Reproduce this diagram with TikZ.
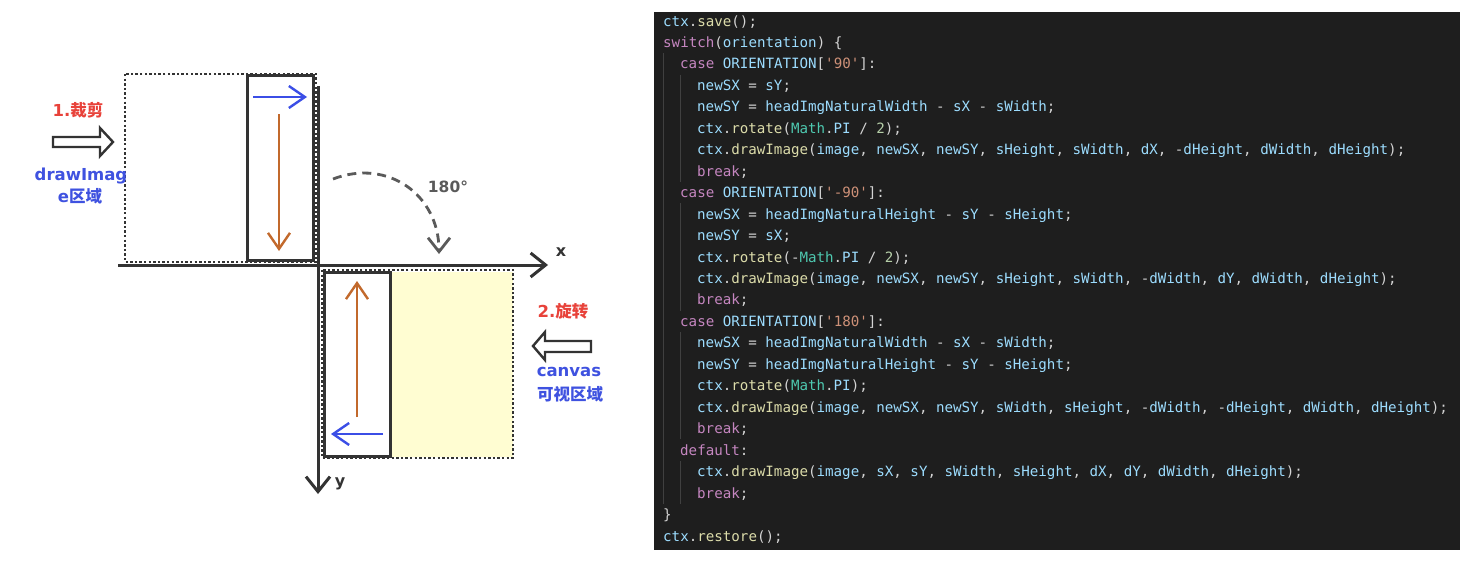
\documentclass[tikz,border=0pt]{standalone}
\usepackage{fontspec}
\setmonofont{DejaVu Sans Mono}
\newfontfamily\dv{DejaVu Sans}
\newfontfamily\cjk{Noto Sans CJK SC}
\usetikzlibrary{arrows.meta}
\definecolor{cbg}{HTML}{1E1E1E}
\definecolor{cpun}{HTML}{D4D4D4}
\definecolor{cvar}{HTML}{9CDCFE}
\definecolor{cfn}{HTML}{DCDCAA}
\definecolor{ckw}{HTML}{C586C0}
\definecolor{cstr}{HTML}{CE9178}
\definecolor{cnum}{HTML}{B5CEA8}
\definecolor{ccls}{HTML}{4EC9B0}
\definecolor{cguide}{HTML}{404040}
\definecolor{cdark}{HTML}{333333}
\definecolor{cblue}{HTML}{3B4EE6}
\definecolor{corange}{HTML}{C2692C}
\definecolor{cred}{HTML}{E8423A}
\definecolor{clblue}{HTML}{3F52E0}
\definecolor{cyellow}{HTML}{FFFDD2}
\definecolor{cgray}{HTML}{5A5A5A}
\newcommand\cV[1]{\textcolor{cvar}{#1}}
\newcommand\cF[1]{\textcolor{cfn}{#1}}
\newcommand\cK[1]{\textcolor{ckw}{#1}}
\newcommand\cS[1]{\textcolor{cstr}{#1}}
\newcommand\cN[1]{\textcolor{cnum}{#1}}
\newcommand\cM[1]{\textcolor{ccls}{#1}}
\tikzset{
  code/.style={anchor=base west, inner sep=0pt, text=cpun,
    font=\ttfamily\fontsize{14.17}{17}\selectfont},
  dotbox/.style={draw=cdark, line width=2.6pt, dash pattern=on 2.4pt off 2.2pt},
  solidbox/.style={draw=cdark, line width=3pt},
  axis/.style={draw=cdark, line width=3pt, -{Straight Barb[length=15pt,width=24pt]}},
  barrow/.style={draw=cblue, line width=2.4pt, -{Straight Barb[length=16pt,width=22pt]}},
  oarrow/.style={draw=corange, line width=2.4pt, -{Straight Barb[length=16pt,width=22pt]}},
  darc/.style={draw=cgray, line width=2.8pt, dash pattern=on 9pt off 6pt, -{Straight Barb[length=14pt,width=22pt]}},
  hollow/.style={draw=cdark, line width=2.4pt, fill=white, line join=miter},
  lbl/.style={inner sep=0pt, font=\fontsize{16.5}{19}\selectfont},
  axlbl/.style={inner sep=0pt, text=cdark, font=\dv\bfseries\fontsize{16}{19}\selectfont},
  guide/.style={draw=cguide, line width=1pt}
}
\begin{document}
\begin{tikzpicture}[x=1pt,y=-1pt]
\useasboundingbox (0,0) rectangle (1476,562);
\fill[white] (0,0) rectangle (1476,562);

% ---------- left diagram ----------
\fill[cyellow] (390,272) rectangle (513,457);
\draw[dotbox] (125,74) rectangle (316,262);
\draw[dotbox] (322,270) rectangle (513,458);
\draw[solidbox] (247,75) rectangle (313,260);
\draw[solidbox] (324,272) rectangle (390,456);

\coordinate (xs) at (118,265);
\coordinate (xe) at (548,265);
\coordinate (ys) at (318,86);
\coordinate (ye) at (318,494);
\draw[axis] (xs) -- (xe);
\draw[axis] (ys) -- (ye);
\node[axlbl] (xl) at (561,252) {x};
\node[axlbl] (yl) at (340,484) {y};

\draw[barrow] (253,97) -- (307,97);
\draw[oarrow] (279,114) -- (279,251);
\draw[oarrow] (357,417) -- (357,281);
\draw[barrow] (383,434) -- (331,434);

\draw[darc] (333,179) .. controls (388,158) and (439,195) .. (439,254);
\node[inner sep=0pt, text=cgray, font=\dv\bfseries\fontsize{15.5}{18}\selectfont] (deg) at (448,187) {180°};

\node[lbl, text=cred] (t1) at (78,110) {{\dv\bfseries 1.}{\cjk\bfseries 裁剪}};
\draw[hollow] (53,137) -- (100,137) -- (100,128) -- (113,142) -- (100,156) -- (100,147) -- (53,147) -- cycle;
\node[lbl, text=clblue] (t2) at (81,176) {\dv\bfseries drawImag};
\node[lbl, text=clblue] (t3) at (80,196) {{\dv\bfseries e}{\cjk\bfseries 区域}};

\node[lbl, text=cred] (t4) at (563,311) {{\dv\bfseries 2.}{\cjk\bfseries 旋转}};
\draw[hollow] (591,341) -- (545,341) -- (545,332) -- (533,346) -- (545,360) -- (545,352) -- (591,352) -- cycle;
\node[lbl, text=clblue] (t5) at (569,372) {\dv\bfseries canvas};
\node[lbl, text=clblue] (t6) at (570,394) {\cjk\bfseries 可视区域};

% ---------- code panel ----------
\fill[cbg] (654,12) rectangle (1460,550);
\draw[guide] (663.5,53) -- (663.5,504);
\draw[guide] (680.5,74.7) -- (680.5,181.9);
\draw[guide] (680.5,203.4) -- (680.5,310.7);
\draw[guide] (680.5,332.2) -- (680.5,439.4);
\draw[guide] (680.5,461) -- (680.5,503.8);

\node[code] (c1) at (663,26.00) {\cV{ctx}.\cF{save}();};
\node[code] (c2) at (663,47.46) {\cK{switch}(\cV{orientation}) \{};
\node[code] (c3) at (680,68.92) {\cK{case} \cV{ORIENTATION}[\cS{'90'}]:};
\node[code] (c4) at (697,90.38) {\cV{newSX} = \cV{sY};};
\node[code] (c5) at (697,111.84) {\cV{newSY} = \cV{headImgNaturalWidth} - \cV{sX} - \cV{sWidth};};
\node[code] (c6) at (697,133.30) {\cV{ctx}.\cF{rotate}(\cM{Math}.\cV{PI} / \cN{2});};
\node[code] (c7) at (697,154.76) {\cV{ctx}.\cF{drawImage}(\cV{image}, \cV{newSX}, \cV{newSY}, \cV{sHeight}, \cV{sWidth}, \cV{dX}, -\cV{dHeight}, \cV{dWidth}, \cV{dHeight});};
\node[code] (c8) at (697,176.22) {\cK{break};};
\node[code] (c9) at (680,197.68) {\cK{case} \cV{ORIENTATION}[\cS{'-90'}]:};
\node[code] (c10) at (697,219.14) {\cV{newSX} = \cV{headImgNaturalHeight} - \cV{sY} - \cV{sHeight};};
\node[code] (c11) at (697,240.60) {\cV{newSY} = \cV{sX};};
\node[code] (c12) at (697,262.06) {\cV{ctx}.\cF{rotate}(-\cM{Math}.\cV{PI} / \cN{2});};
\node[code] (c13) at (697,283.52) {\cV{ctx}.\cF{drawImage}(\cV{image}, \cV{newSX}, \cV{newSY}, \cV{sHeight}, \cV{sWidth}, -\cV{dWidth}, \cV{dY}, \cV{dWidth}, \cV{dHeight});};
\node[code] (c14) at (697,304.98) {\cK{break};};
\node[code] (c15) at (680,326.44) {\cK{case} \cV{ORIENTATION}[\cS{'180'}]:};
\node[code] (c16) at (697,347.90) {\cV{newSX} = \cV{headImgNaturalWidth} - \cV{sX} - \cV{sWidth};};
\node[code] (c17) at (697,369.36) {\cV{newSY} = \cV{headImgNaturalHeight} - \cV{sY} - \cV{sHeight};};
\node[code] (c18) at (697,390.82) {\cV{ctx}.\cF{rotate}(\cM{Math}.\cV{PI});};
\node[code] (c19) at (697,412.28) {\cV{ctx}.\cF{drawImage}(\cV{image}, \cV{newSX}, \cV{newSY}, \cV{sWidth}, \cV{sHeight}, -\cV{dWidth}, -\cV{dHeight}, \cV{dWidth}, \cV{dHeight});};
\node[code] (c20) at (697,433.74) {\cK{break};};
\node[code] (c21) at (680,455.20) {\cK{default}:};
\node[code] (c22) at (697,476.66) {\cV{ctx}.\cF{drawImage}(\cV{image}, \cV{sX}, \cV{sY}, \cV{sWidth}, \cV{sHeight}, \cV{dX}, \cV{dY}, \cV{dWidth}, \cV{dHeight});};
\node[code] (c23) at (697,498.12) {\cK{break};};
\node[code] (c24) at (663,519.58) {\}};
\node[code] (c25) at (663,541.04) {\cV{ctx}.\cF{restore}();};
\end{tikzpicture}
\end{document}
